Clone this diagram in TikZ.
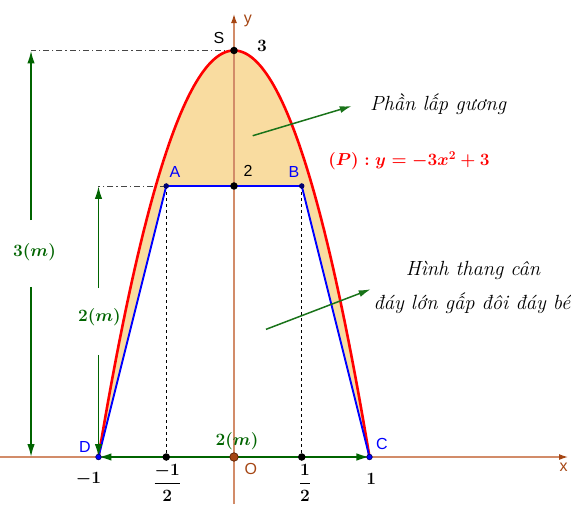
\documentclass[tikz,border=0pt]{standalone}
\usepackage{fontspec}
\setsansfont{Liberation Sans}
\usetikzlibrary{arrows.meta}
\definecolor{axisc}{RGB}{210,140,105}
\definecolor{axisdark}{RGB}{165,70,20}
\definecolor{fillc}{RGB}{249,220,160}
\definecolor{dgreen}{RGB}{0,100,0}
\definecolor{pgreen}{RGB}{25,115,25}
\definecolor{ptblue}{RGB}{0,0,255}
\definecolor{navyc}{RGB}{0,0,110}
\definecolor{dashgray}{RGB}{70,70,70}
\begin{document}
\begin{tikzpicture}[x=135.5pt,y=135.5pt,
  axisline/.style={axisc, line width=1.2pt, -{Latex[length=9pt,width=6pt,color=axisdark]}},
  dimarrow/.style={dgreen, line width=1.8pt, -{Latex[length=13pt,width=7.5pt]}},
  dimboth/.style={dgreen, line width=1.8pt, {Latex[length=13pt,width=7.5pt]}-{Latex[length=13pt,width=7.5pt]}},
  pointer/.style={pgreen, line width=1.5pt, -{Latex[length=12pt,width=7pt]}},
  dashdot/.style={dashgray, line width=0.9pt, dash pattern=on 6pt off 3pt on 1.2pt off 3pt},
  dashv/.style={black, line width=0.8pt, dash pattern=on 3pt off 3pt},
  bdot/.style={circle, fill=black, inner sep=0pt, minimum size=7.5pt},
  sdot/.style={circle, fill=navyc, inner sep=0pt, minimum size=5.5pt},
  cdot/.style={circle, fill=ptblue, draw=navyc, line width=0.7pt, inner sep=0pt, minimum size=5.5pt},
  odot/.style={circle, fill=axisdark, draw={rgb,255:red,90;green,30;blue,0}, line width=0.7pt, inner sep=0pt, minimum size=8.5pt},
  ptlabel/.style={font=\sffamily\fontsize{16}{19}\selectfont, inner sep=0pt},
  mlabel/.style={font=\fontsize{18}{22}\selectfont\boldmath, inner sep=0pt},
  vtext/.style={font=\itshape\fontsize{20.5}{24}\selectfont, inner sep=0pt, text=black}
]
\useasboundingbox (-1.7269,-0.3469) rectangle (2.4871,3.3727);

% key points
\coordinate (D) at (-1,0);
\coordinate (A) at (-0.5,2);
\coordinate (B) at (0.5,2);
\coordinate (C) at (1,0);
\coordinate (S) at (0,3);
\coordinate (M) at (0,2);
\coordinate (H1) at (-0.5,0);
\coordinate (H2) at (0.5,0);
\coordinate (O) at (0,0);
\coordinate (xl) at (-1.7269,0);
\coordinate (xr) at (2.465,0);
\coordinate (yb) at (0,-0.3469);
\coordinate (yt) at (0,3.269);
\coordinate (S3) at (-1.498,3);
\coordinate (A2) at (-1,2);
\coordinate (b3) at (-1.498,0);
\coordinate (g3u) at (-1.498,1.749);
\coordinate (g3d) at (-1.498,1.255);
\coordinate (g2u) at (-1,1.247);
\coordinate (g2d) at (-1,0.753);
\coordinate (p1s) at (0.138,2.371);
\coordinate (p1e) at (0.869,2.590);
\coordinate (p2s) at (0.236,0.942);
\coordinate (p2e) at (1.009,1.238);

% filled region between parabola and trapezoid
\fill[fillc] plot[domain=-1:1, samples=120] (\x,{3-3*\x*\x}) -- (B) -- (A) -- cycle;

% axes
\draw[axisline] (xl) -- (xr);
\draw[axisline] (yb) -- (yt);

% auxiliary lines
\draw[dashv] (A) -- (H1);
\draw[dashv] (B) -- (H2);
\draw[dashdot] (S) -- (S3);
\draw[dashdot] (A) -- (A2);

% parabola
\draw[red, line width=2.6pt] plot[domain=-1:1, samples=120] (\x,{3-3*\x*\x});

% trapezoid
\draw[ptblue, line width=1.9pt, line join=round] (D) -- (A) -- (B) -- (C);

% dimension arrows
\draw[dimarrow] (g3u) -- (S3);
\draw[dimarrow] (g3d) -- (b3);
\draw[dimarrow] (g2u) -- (A2);
\draw[dimarrow] (g2d) -- (D);
\draw[dimboth] (D) -- (C);

% pointers
\draw[pointer] (p1s) -- (p1e);
\draw[pointer] (p2s) -- (p2e);

% dots
\node[bdot] (nS) at (S) {};
\node[bdot] (nM) at (M) {};
\node[bdot] (nH1) at (H1) {};
\node[bdot] (nH2) at (H2) {};
\node[sdot] (nA) at (A) {};
\node[sdot] (nB) at (B) {};
\node[cdot] (nD) at (D) {};
\node[cdot] (nC) at (C) {};
\node[odot] (nO) at (O) {};

% point labels
\node[ptlabel] (lS) at (-0.111,3.092) {S};
\node[ptlabel, text=ptblue] (lA) at (-0.435,2.103) {A};
\node[ptlabel, text=ptblue] (lB) at (0.443,2.103) {B};
\node[ptlabel] (lM) at (0.103,2.111) {2};
\node[ptlabel, text=ptblue] (lD) at (-1.100,0.074) {D};
\node[ptlabel, text=ptblue] (lC) at (1.092,0.096) {C};
\node[ptlabel, text=axisdark] (lO) at (0.125,-0.089) {O};
\node[ptlabel, text=axisdark] (lx) at (2.432,-0.077) {x};
\node[ptlabel, text=axisdark] (ly) at (0.103,3.218) {y};

% math labels
\node[mlabel] (l3) at (0.207,3.037) {$3$};
\node[mlabel] (tm1) at (-1.074,-0.162) {$-1$};
\node[mlabel] (tp1) at (1.013,-0.162) {$1$};
\node[mlabel] (tmh) at (-0.492,-0.188) {$\displaystyle\frac{-1}{2}$};
\node[mlabel] (tph) at (0.524,-0.188) {$\displaystyle\frac{1}{2}$};
\node[mlabel, text=dgreen] (d3) at (-1.472,1.513) {$3(m)$};
\node[mlabel, text=dgreen] (d2v) at (-0.993,1.033) {$2(m)$};
\node[mlabel, text=dgreen] (d2h) at (0.022,0.118) {$2(m)$};
\node[mlabel, text=red] (lP) at (1.292,2.185) {$(P): y=-3x^2+3$};

% texts
\node[vtext] (t1) at (1.506,2.600) {Phần lấp gương};
\node[vtext] (t2) at (1.764,1.380) {Hình thang cân};
\node[vtext] (t3) at (1.756,1.137) {đáy lớn gấp đôi đáy bé};
\end{tikzpicture}
\end{document}
